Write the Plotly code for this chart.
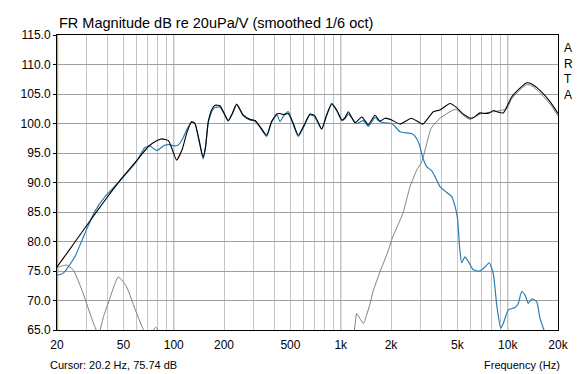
import plotly.graph_objects as go

# ---- data ----
black_f = [20, 22, 25, 30.8, 38.8, 48.8, 60, 70.5, 78, 85, 93, 98, 104, 112, 120, 128, 134, 141,
           150, 155, 161, 170, 177, 189, 200, 212, 225, 238, 261, 286, 307, 330, 360, 385, 414,
           433, 453, 485, 520, 557, 600, 655, 700, 769, 820, 883, 950, 1014, 1060, 1110, 1218,
           1336, 1463, 1604, 1718, 1841, 2018, 2265, 2650, 3100, 3584, 3930, 4510, 4947, 5300,
           5944, 6224, 6824, 7312, 7754, 8198, 8590, 9404, 9860, 10560, 11840, 13000, 13920,
           15600, 17920, 20000]
black_db = [75.7, 77.3, 79.5, 83.1, 87.0, 90.7, 93.7, 96.1, 97.0, 97.4, 97.1, 95.6, 93.8, 95.5,
            98.5, 100.3, 100.0, 97.5, 94.3, 96.0, 100.3, 102.5, 103.1, 103.0, 101.8, 100.5,
            101.8, 103.3, 101.4, 100.7, 100.5, 99.4, 98.0, 100.3, 101.6, 101.7, 101.5, 101.7,
            100.0, 98.0, 99.6, 101.6, 101.3, 99.1, 101.3, 103.4, 102.2, 100.6, 101.0, 102.0,
            100.1, 101.1, 99.8, 101.4, 100.4, 100.9, 100.6, 99.9, 100.9, 99.9, 102.0, 102.3,
            103.4, 102.7, 101.8, 100.9, 101.0, 101.8, 101.7, 101.8, 102.2, 102.0, 101.8, 102.8,
            104.5, 106.0, 106.9, 106.7, 105.6, 103.7, 101.7]

blue_f = [20, 21, 22.3, 23.5, 25.6, 29.4, 33.7, 38.8, 48.8, 60, 67, 72, 79, 88, 95, 101, 106,
          112, 120, 128, 134, 141, 150, 155, 161, 170, 177, 189, 200, 212, 225, 238, 261, 286,
          307, 330, 360, 385, 414, 433, 453, 485, 520, 557, 600, 655, 700, 769, 820, 883, 950,
          1014, 1060, 1110, 1245, 1366, 1463, 1604, 1718, 1841, 2018, 2114, 2265, 2500, 2650,
          2790, 2950, 3100, 3270, 3500, 3669, 3930, 4311, 4618, 4833, 5000, 5150, 5300, 5548,
          5808, 6224, 6824, 7312, 7754, 8198, 8590, 9074, 9404, 10080, 11060, 11560, 12120,
          12700, 13280, 13920, 14900, 15600, 16340, 17500]
blue_db = [74.3, 74.4, 74.9, 75.8, 77.4, 81.4, 85.1, 87.6, 90.6, 93.6, 95.9, 96.2, 95.4, 96.3,
           96.4, 96.2, 96.3, 97.2, 99.0, 100.3, 100.0, 97.4, 94.0, 96.0, 100.2, 102.2, 102.7,
           102.8, 101.7, 100.4, 101.7, 103.2, 101.3, 100.6, 100.4, 99.3, 97.8, 100.2, 101.5,
           100.3, 101.2, 102.0, 99.8, 97.8, 99.4, 101.5, 101.1, 99.0, 101.2, 103.3, 102.1,
           100.5, 100.8, 101.6, 100.0, 100.5, 99.5, 101.0, 100.3, 100.1, 100.0, 99.5, 98.6,
           98.4, 98.3, 97.8, 96.5, 94.2, 92.7, 92.0, 91.0, 89.3, 88.3, 87.6, 86.0, 84.0, 79.0,
           76.4, 77.4, 76.6, 75.2, 75.0, 75.7, 76.4, 74.5, 69.3, 65.3, 66.1, 68.4, 68.8, 69.5,
           71.5, 70.9, 69.5, 70.3, 69.8, 67.0, 65.3, 63.0]

gray_lo_f = [20, 22.8, 25, 28.6, 33, 35.5, 38, 40.6, 46.6, 52.2, 60, 65.9, 70, 74, 78, 82, 90]
gray_lo_db = [75.6, 76.0, 75.2, 71.3, 66.2, 64.3, 67.3, 69.6, 74.0, 72.3, 67.8, 65.0, 63.8,
              64.6, 65.5, 64.6, 60.0]

gray_hi_f = [1180, 1220, 1245, 1300, 1370, 1420, 1500, 1560, 1720, 1900, 2020, 2110, 2265,
             2370, 2600, 2852, 3056, 3274, 3480, 3930, 4510, 4833, 5060, 5300, 5944, 6824,
             8198, 9860, 10560, 11840, 13000, 13920, 15600, 17920, 20000]
gray_hi_db = [63.0, 66.0, 67.8, 67.0, 66.1, 67.3, 69.5, 71.5, 74.9, 78.0, 80.3, 81.6, 83.6,
              85.0, 89.3, 92.1, 93.5, 96.6, 99.2, 100.9, 102.0, 102.4, 102.2, 101.6, 100.7,
              101.6, 102.0, 102.5, 104.2, 105.7, 106.6, 106.4, 105.2, 103.3, 101.3]

grid_f = [20, 30, 40, 50, 60, 70, 80, 90, 100, 200, 300, 400, 500, 600, 700, 800, 900,
          1000, 2000, 3000, 4000, 5000, 6000, 7000, 8000, 9000, 10000, 20000]
label_f = {20: "20", 50: "50", 100: "100", 200: "200", 500: "500", 1000: "1k", 2000: "2k",
           5000: "5k", 10000: "10k", 20000: "20k"}
major_grid = [100, 1000, 10000]
y_ticks = [65, 70, 75, 80, 85, 90, 95, 100, 105, 110, 115]
cursor_f = 20.2

FONT = "Liberation Sans, Arial, sans-serif"

fig = go.Figure()
line_kw = dict(shape="spline", smoothing=0.5)
fig.add_trace(go.Scatter(x=gray_lo_f, y=gray_lo_db, mode="lines",
                         line=dict(color="#7f7f7f", width=1, **line_kw)))
fig.add_trace(go.Scatter(x=gray_hi_f, y=gray_hi_db, mode="lines",
                         line=dict(color="#7f7f7f", width=1, **line_kw)))
fig.add_trace(go.Scatter(x=blue_f, y=blue_db, mode="lines",
                         line=dict(color="#2a7db5", width=1.2, **line_kw)))
fig.add_trace(go.Scatter(x=black_f, y=black_db, mode="lines",
                         line=dict(color="#000000", width=1.1, **line_kw)))

for f in major_grid:
    fig.add_shape(type="line", xref="x", yref="paper", x0=f, x1=f, y0=0, y1=1,
                  line=dict(color="#7a7a7a", width=1), layer="below")
fig.add_shape(type="line", xref="x", yref="paper", x0=cursor_f, x1=cursor_f, y0=0, y1=1,
              line=dict(color="#a8a040", width=1), layer="below")

fig.update_layout(
    width=582, height=374,
    margin=dict(l=57, r=24, t=35, b=44),
    paper_bgcolor="white", plot_bgcolor="white",
    showlegend=False,
    font=dict(family=FONT, size=12, color="black"),
    xaxis=dict(type="log", range=[1.30103, 4.30103],
               tickvals=grid_f, ticktext=[label_f.get(f, "") for f in grid_f],
               showgrid=True, gridcolor="#c4c4c4", gridwidth=1,
               showline=True, linecolor="black", linewidth=1, mirror=True,
               ticks="", zeroline=False, ticklabelstandoff=4,
               tickfont=dict(size=12, family=FONT)),
    yaxis=dict(range=[65, 115], tickvals=y_ticks, tickformat=".1f",
               showgrid=True, gridcolor="#a0a0a0", gridwidth=1,
               showline=True, linecolor="black", linewidth=1, mirror=True,
               ticks="outside", ticklen=3, tickcolor="black", zeroline=False,
               tickfont=dict(size=12, family=FONT)),
)

fig.add_annotation(text="FR Magnitude dB re 20uPa/V (smoothed 1/6 oct)", xref="paper",
                   yref="paper", x=0.0, y=1.0, xanchor="left", yanchor="bottom", yshift=2,
                   showarrow=False, font=dict(size=14.5, family=FONT))
fig.add_annotation(text="A<br>R<br>T<br>A", xref="paper", yref="paper", x=1.0, y=0.985,
                   xanchor="left", yanchor="top", xshift=4, showarrow=False, align="left",
                   font=dict(size=12, family=FONT))
fig.add_annotation(text="Cursor: 20.2 Hz, 75.74 dB", xref="paper", yref="paper", x=0.0,
                   y=0.0, xanchor="left", yanchor="top", xshift=-9, yshift=-27,
                   showarrow=False, font=dict(size=11, family=FONT))
fig.add_annotation(text="Frequency (Hz)", xref="paper", yref="paper", x=1.0, y=0.0,
                   xanchor="right", yanchor="top", xshift=4, yshift=-27, showarrow=False,
                   font=dict(size=11, family=FONT))

fig.write_html("out.html", config={"displayModeBar": False},
               post_script="document.body.style.margin='0px';")
